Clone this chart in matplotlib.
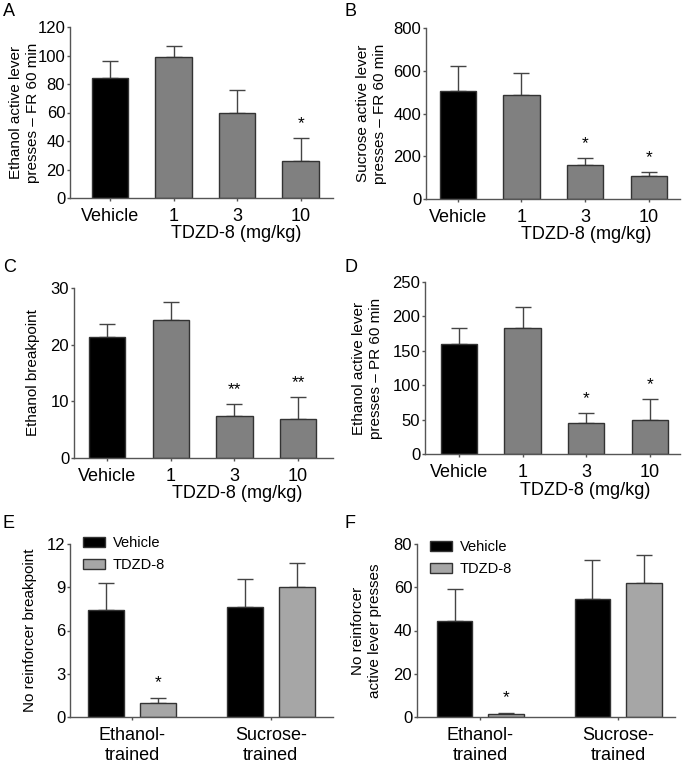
import numpy as np
import matplotlib
matplotlib.use("Agg")
import matplotlib.pyplot as plt

plt.rcParams['font.family'] = ['Liberation Sans', 'DejaVu Sans']

# Data
doses = ['Vehicle', '1', '3', '10']

a_mean = [84, 99, 60, 26]
a_err = [12, 8, 16, 16]
a_sig = ['', '', '', '*']

b_mean = [505, 485, 157, 108]
b_err = [117, 105, 35, 20]
b_sig = ['', '', '*', '*']

c_mean = [21.3, 24.4, 7.5, 6.8]
c_err = [2.4, 3.1, 2.1, 3.9]
c_sig = ['', '', '**', '**']

d_mean = [160, 183, 45, 50]
d_err = [23, 30, 14, 30]
d_sig = ['', '', '*', '*']

groups = ['Ethanol-\ntrained', 'Sucrose-\ntrained']
e_vehicle = [7.4, 7.6]
e_vehicle_err = [1.9, 2.0]
e_tdzd = [1.0, 9.0]
e_tdzd_err = [0.3, 1.7]

f_vehicle = [44.5, 54.5]
f_vehicle_err = [14.5, 18]
f_tdzd = [1.3, 62]
f_tdzd_err = [0.5, 13]

W, H = 685, 764
fig = plt.figure(figsize=(W / 100, H / 100), dpi=100)

spine_col = '#555555'
FS = 13
YL = 11


def px_axes(left, right, top, bottom):
    return fig.add_axes([left / W, 1 - bottom / H, (right - left) / W, (bottom - top) / H])


def style(ax, ylab_x):
    for s in ['top', 'right']:
        ax.spines[s].set_visible(False)
    for s in ['left', 'bottom']:
        ax.spines[s].set_color(spine_col)
        ax.spines[s].set_linewidth(1.0)
    ax.tick_params(colors=spine_col, labelcolor='black', length=2.5, width=1)
    ax.tick_params(axis='y', pad=1, labelsize=12)
    ax.tick_params(axis='x', pad=5, labelsize=FS)
    ax.yaxis.set_label_coords(ylab_x, 0.5)


def dose_panel(ax, means, errs, sigs, ymax, step, xlim, ylabel, ylab_x):
    x = np.arange(len(doses))
    cols = ['black', '#808080', '#808080', '#808080']
    ax.bar(x, means, width=0.57, color=cols, edgecolor='#333333', linewidth=1, zorder=2)
    ax.errorbar(x, means, yerr=[np.zeros(len(x)), errs], fmt='none', ecolor='#444444',
                elinewidth=1, capsize=6, capthick=1, zorder=1)
    for xi, m, e, s in zip(x, means, errs, sigs):
        if s:
            ax.annotate(s, (xi, m + e), xytext=(0, 5), textcoords='offset points',
                        ha='center', va='bottom', fontsize=12.5)
    ax.set_ylim(0, ymax)
    ax.set_yticks(np.arange(0, ymax + step / 2, step))
    ax.set_xlim(*xlim)
    ax.set_xticks(x)
    ax.set_xticklabels(doses)
    ax.set_ylabel(ylabel, fontsize=YL, linespacing=1.3)
    ax.text(0.63, -0.16, 'TDZD-8 (mg/kg)', transform=ax.transAxes, ha='center',
            va='top', fontsize=FS)
    style(ax, ylab_x)


def group_panel(ax, veh, veh_err, tdzd, tdzd_err, ymax, step, xlim, ylabel, ylab_x, leg_anchor):
    x = np.arange(len(groups))
    off = 0.188
    w = 0.26
    ax.bar(x - off, veh, width=w, color='black', edgecolor='#333333', linewidth=1,
           zorder=2, label='Vehicle')
    ax.bar(x + off, tdzd, width=w, color='#a6a6a6', edgecolor='#333333', linewidth=1,
           zorder=2, label='TDZD-8')
    ax.errorbar(x - off, veh, yerr=[np.zeros(len(x)), veh_err], fmt='none',
                ecolor='#444444', elinewidth=1, capsize=6, capthick=1, zorder=1)
    ax.errorbar(x + off, tdzd, yerr=[np.zeros(len(x)), tdzd_err], fmt='none',
                ecolor='#444444', elinewidth=1, capsize=6, capthick=1, zorder=1)
    ax.annotate('*', (x[0] + off, tdzd[0] + tdzd_err[0]), xytext=(0, 6),
                textcoords='offset points', ha='center', va='bottom', fontsize=12.5)
    ax.set_ylim(0, ymax)
    ax.set_yticks(np.arange(0, ymax + step / 2, step))
    ax.set_xlim(*xlim)
    ax.set_xticks(x)
    ax.set_xticklabels(groups, linespacing=1.2)
    ax.set_ylabel(ylabel, fontsize=YL, linespacing=1.3)
    ax.legend(loc='upper left', bbox_to_anchor=leg_anchor, frameon=False,
              fontsize=10.5, handlelength=1.5, handleheight=0.7, labelspacing=0.55,
              handletextpad=0.55, borderpad=0, borderaxespad=0)
    style(ax, ylab_x)


axA = px_axes(70, 333, 27, 198)
dose_panel(axA, a_mean, a_err, a_sig, 120, 20, (-0.63, 3.51),
           'Ethanol active lever\npresses \u2013 FR 60 min', -0.114)

axB = px_axes(426, 680, 28, 199)
dose_panel(axB, b_mean, b_err, b_sig, 800, 200, (-0.50, 3.49),
           'Sucrose active lever\npresses \u2013 FR 60 min', -0.154)

axC = px_axes(74, 333, 288, 458)
dose_panel(axC, c_mean, c_err, c_sig, 30, 10, (-0.52, 3.55), 'Ethanol breakpoint', -0.131)

axD = px_axes(425, 680, 282, 454)
dose_panel(axD, d_mean, d_err, d_sig, 250, 50, (-0.53, 3.47),
           'Ethanol active lever\npresses \u2013 PR 60 min', -0.165)

axE = px_axes(70, 333, 544, 717)
group_panel(axE, e_vehicle, e_vehicle_err, e_tdzd, e_tdzd_err, 12, 3, (-0.45, 1.45),
            'No reinforcer breakpoint', -0.125, (0.049, 1.046))

axF = px_axes(417, 675, 544, 717)
group_panel(axF, f_vehicle, f_vehicle_err, f_tdzd, f_tdzd_err, 80, 20, (-0.46, 1.41),
            'No reinforcer\nactive lever presses', -0.136, (0.05, 1.023))

# panel letters
for lab, (px, py) in zip('ABCDEF', [(3, 11), (344, 11), (3, 268), (344, 268), (3, 524), (344, 524)]):
    fig.text(px / W, 1 - py / H, lab, fontsize=13, ha='left', va='center')

fig.savefig('out.png', dpi=100)
